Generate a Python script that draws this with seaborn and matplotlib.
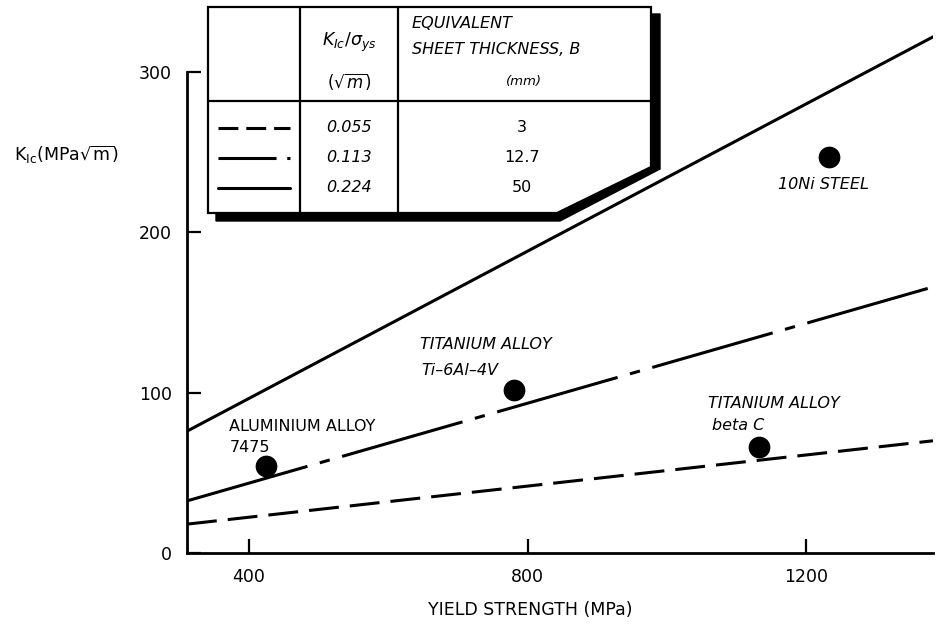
import matplotlib
matplotlib.use("Agg")
import matplotlib.pyplot as plt
from matplotlib.patches import Polygon
import seaborn as sns
import pandas as pd

sns.set_style("ticks")
plt.rcParams['font.family'] = ['DejaVu Sans']
plt.rcParams['mathtext.fontset'] = 'dejavusans'
plt.rcParams['text.color'] = 'black'
plt.rcParams['axes.labelcolor'] = 'black'

# 데이터
yield_ends = [311, 1382]          # 축 양 끝의 항복강도 (MPa)
k_dashed = [18, 70]               # K/σ = 0.055
k_dashdot = [32.5, 166]           # K/σ = 0.113
k_solid = [76, 322]               # K/σ = 0.224
ratios = ['0.055', '0.113', '0.224']
thickness = ['3', '12.7', '50']

materials = ['ALUMINIUM ALLOY 7475', 'TITANIUM ALLOY Ti-6Al-4V',
             'TITANIUM ALLOY beta C', '10Ni STEEL']
mat_yield = [425, 780, 1132, 1233]
mat_k = [54, 102, 66, 247]

xticks = [400, 800, 1200]
yticks = [0, 100, 200, 300]

lines = pd.DataFrame({
    'yield': yield_ends * 3,
    'K': k_dashed + k_dashdot + k_solid,
    'ratio': [r for r in ratios for _ in range(2)],
})
pts = pd.DataFrame({'yield': mat_yield, 'K': mat_k, 'name': materials})

lw = 2.2
dash_map = {
    '0.055': (9.8, 3.6),
    '0.113': (41, 4.2, 3.4, 4.2),
    '0.224': '',
}

fig = plt.figure(figsize=(9.36, 6.26), dpi=100)
ax = fig.add_axes([187 / 936, 73 / 626, 746 / 936, 553 / 626])

sns.lineplot(data=lines, x='yield', y='K', style='ratio', dashes=dash_map,
             color='black', linewidth=lw, estimator=None, legend=False, ax=ax)
sns.scatterplot(data=pts, x='yield', y='K', color='black', s=210,
                edgecolor='black', legend=False, ax=ax, zorder=4)

ax.set_xlim(yield_ends[0], yield_ends[1])
ax.set_ylim(0, 345)
ax.set_xticks(xticks)
ax.set_yticks(yticks)
ax.tick_params(direction='in', length=10, width=1.6, labelsize=12.5,
               colors='black')
ax.tick_params(axis='x', pad=11)
ax.tick_params(axis='y', pad=11)
for s in ['top', 'right']:
    ax.spines[s].set_visible(False)
for s in ['left', 'bottom']:
    ax.spines[s].set_linewidth(2)
    ax.spines[s].set_color('black')
ax.spines['left'].set_bounds(0, 300)

ax.set_xlabel('YIELD STRENGTH (MPa)', fontsize=12.5)
ax.xaxis.set_label_coords(0.46, -0.103)
ax.xaxis.label.set_va('center')
ax.set_ylabel(r'K$_{\mathregular{Ic}}$(MPa$\sqrt{\mathregular{m}}$)',
              fontsize=12.5, rotation=0, ha='center', va='center')
ax.yaxis.set_label_coords(-0.161, 0.72)

# 재료 이름
tk = dict(fontsize=11.5, ha='left', va='baseline')
ax.text(372, 76, 'ALUMINIUM ALLOY', **tk)
ax.text(372, 63, '7475', **tk)
ax.text(645, 127, 'TITANIUM ALLOY', style='italic', **tk)
ax.text(648, 111, 'Ti–6Al–4V', style='italic', **tk)
ax.text(1059, 90.5, 'TITANIUM ALLOY', style='italic', **tk)
ax.text(1065, 77, 'beta C', style='italic', **tk)
ax.text(1159, 227, '10Ni STEEL', style='italic', **tk)

# 표 (픽셀 좌표용 오버레이)
ov = fig.add_axes([0, 0, 1, 1], zorder=5)
ov.set_xlim(0, 936)
ov.set_ylim(626, 0)
ov.axis('off')
ov.patch.set_visible(False)

shadow = [(216, 213), (216, 221), (560, 221), (660, 169), (660, 14),
          (651, 14), (651, 167), (557, 213)]
ov.add_patch(Polygon(shadow, closed=True, facecolor='black', edgecolor='black', lw=1))
table = [(208, 7), (651, 7), (651, 167), (557, 213), (208, 213)]
ov.add_patch(Polygon(table, closed=True, facecolor='white', edgecolor='black', lw=1.6))
ov.plot([300, 300], [7, 213], color='black', lw=1.6)
ov.plot([398, 398], [7, 213], color='black', lw=1.6)
ov.plot([208, 651], [101, 101], color='black', lw=1.6)

ov.text(349, 42, r'$K_{Ic}/\sigma_{ys}$', fontsize=12.5, ha='center', va='center')
ov.text(349, 82, r'$(\sqrt{m})$', fontsize=12, ha='center', va='center')
ov.text(412, 23, 'EQUIVALENT', fontsize=11.5, style='italic', ha='left', va='center')
ov.text(412, 50, 'SHEET THICKNESS, B', fontsize=11.5, style='italic', ha='left', va='center')
ov.text(524, 81, '(mm)', fontsize=9.5, style='italic', ha='center', va='center')

sample_dash = [(6.5, 2.6), (19, 3.5, 2.2, 3.5), None]
row_y = [128, 158, 188]
for r, t, yy, d in zip(ratios, thickness, row_y, sample_dash):
    ln, = ov.plot([218, 290], [yy, yy], color='black', lw=lw)
    if d is not None:
        ln.set_dashes(d)
    ov.text(349, yy, r, fontsize=11.5, style='italic', ha='center', va='center')
    ov.text(522, yy, t, fontsize=11.5, ha='center', va='center')

fig.savefig('out.png', dpi=100)
